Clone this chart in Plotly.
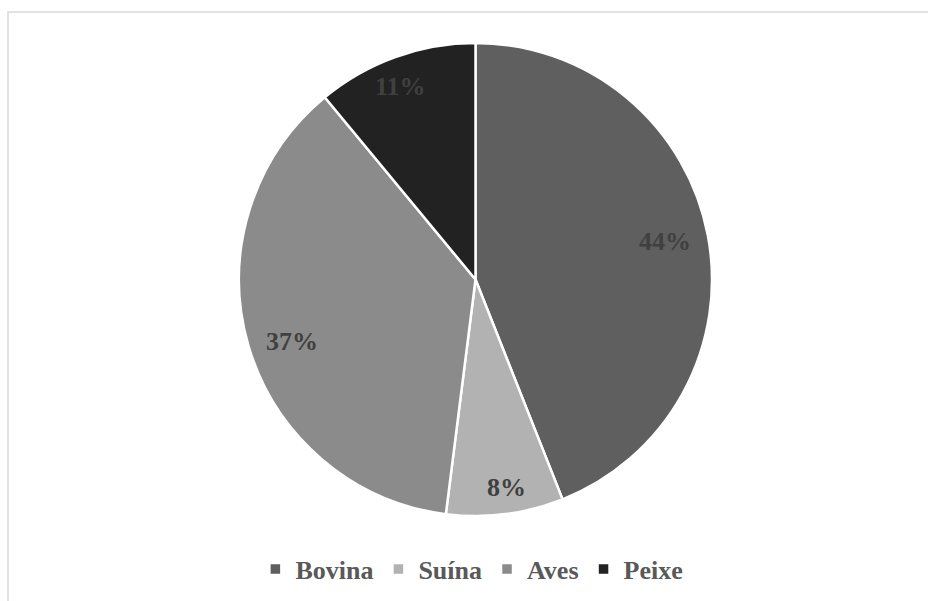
import math
import plotly.graph_objects as go

# Consumo de carne por tipo (%)
categorias = ["Bovina", "Suína", "Aves", "Peixe"]
percentuais = [44, 8, 37, 11]
cores = ["#5f5f5f", "#b2b2b2", "#8b8b8b", "#222222"]

# Posição de cada rótulo de dados: fração do raio e ajuste angular (graus)
raio_rotulo = [0.817, 0.89, 0.82, 0.876]
ajuste_angulo = [-0.4, -1.4, -2.3, -1.3]

W, H = 928, 601
M_L, M_R, M_T, M_B = 23, 0, 43, 85
plot_w = W - M_L - M_R
plot_h = H - M_T - M_B
raio_px = min(plot_w, plot_h) / 2

fig = go.Figure(
    go.Pie(
        labels=[f"<b>{c}</b>" for c in categorias],
        values=percentuais,
        sort=False,
        direction="clockwise",
        rotation=0,
        marker=dict(colors=cores, line=dict(color="white", width=2.5)),
        textinfo="none",
        hoverinfo="label+percent",
        domain=dict(x=[0, 1], y=[0, 1]),
    )
)

# Rótulos de porcentagem sobre a bissetriz de cada fatia
total = sum(percentuais)
acumulado = 0
anotacoes = []
for valor, f, da in zip(percentuais, raio_rotulo, ajuste_angulo):
    meio = (acumulado + valor / 2) / total * 2 * math.pi + math.radians(da)
    acumulado += valor
    dx = f * raio_px * math.sin(meio)
    dy = f * raio_px * math.cos(meio)
    anotacoes.append(
        dict(
            x=0.5 + dx / plot_w,
            y=0.5 + dy / plot_h,
            xref="paper",
            yref="paper",
            text=f"<b>{round(valor / total * 100)}%</b>",
            showarrow=False,
            font=dict(family="Liberation Serif", size=26, color="#404040"),
            xanchor="center",
            yanchor="middle",
        )
    )

fig.update_layout(
    width=W,
    height=H,
    margin=dict(l=M_L, r=M_R, t=M_T, b=M_B),
    paper_bgcolor="white",
    plot_bgcolor="white",
    showlegend=True,
    legend=dict(
        orientation="h",
        x=0.496,
        xanchor="center",
        y=-0.112,
        yanchor="middle",
        font=dict(family="Liberation Serif", size=26, color="#595959"),
        itemclick=False,
        traceorder="normal",
    ),
    annotations=anotacoes,
    shapes=[
        dict(
            type="rect",
            xref="paper",
            yref="paper",
            x0=(8 - M_L) / plot_w,
            x1=(W + 10 - M_L) / plot_w,
            y0=-(H + 10 - M_T - plot_h) / plot_h,
            y1=1 + (M_T - 12) / plot_h,
            line=dict(color="#d9d9d9", width=1.5),
            layer="below",
        )
    ],
)

fig.write_html("out.html")
